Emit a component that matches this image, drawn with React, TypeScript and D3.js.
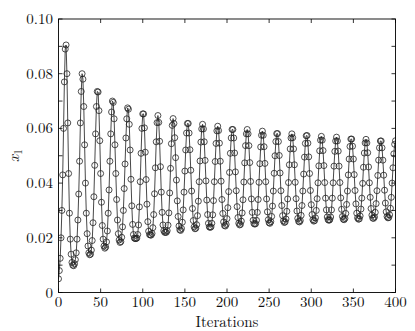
import React, { useEffect, useRef } from 'react';
import * as d3 from 'd3';

// x_1 value at every iteration 0..400
const x1Values: number[] = [
  0.005, 0.008, 0.0125, 0.020, 0.030, 0.043, 0.060, 0.077, 0.089, 0.0905,
  0.080, 0.062, 0.0435, 0.029, 0.0195, 0.014, 0.011, 0.010, 0.0098, 0.0105,
  0.012, 0.0145, 0.0195, 0.0265, 0.036, 0.048, 0.062, 0.0735, 0.080, 0.078,
  0.068, 0.054, 0.040, 0.029, 0.0215, 0.017, 0.0145, 0.0138, 0.014, 0.0155,
  0.019, 0.0255, 0.035, 0.0465, 0.058, 0.068, 0.0735, 0.0733, 0.0665, 0.0555,
  0.0435, 0.033, 0.0245, 0.0195, 0.017, 0.0162, 0.0166, 0.0185, 0.0225, 0.029,
  0.0375, 0.048, 0.058, 0.066, 0.070, 0.0695, 0.0635, 0.054, 0.0435, 0.034,
  0.0265, 0.0215, 0.0192, 0.0183, 0.0186, 0.0202, 0.024, 0.030, 0.038, 0.047,
  0.0565, 0.0635, 0.0675, 0.067, 0.0615, 0.0521, 0.0414, 0.0317, 0.0249, 0.0212,
  0.0199, 0.0197, 0.0197, 0.0199, 0.0212, 0.0247, 0.0313, 0.0405, 0.0509, 0.0600,
  0.0653, 0.0653, 0.0602, 0.0513, 0.0413, 0.0323, 0.0259, 0.0224, 0.0212, 0.0210,
  0.0210, 0.0216, 0.0237, 0.0285, 0.0361, 0.0456, 0.0551, 0.0621, 0.0647, 0.0622,
  0.0553, 0.0460, 0.0367, 0.0293, 0.0247, 0.0226, 0.0220, 0.0220, 0.0220, 0.0226,
  0.0246, 0.0291, 0.0364, 0.0454, 0.0544, 0.0611, 0.0636, 0.0618, 0.0566, 0.0493,
  0.0411, 0.0335, 0.0278, 0.0243, 0.0229, 0.0227, 0.0234, 0.0257, 0.0302, 0.0367,
  0.0444, 0.0521, 0.0583, 0.0618, 0.0618, 0.0583, 0.0522, 0.0447, 0.0371, 0.0307,
  0.0263, 0.0240, 0.0233, 0.0235, 0.0248, 0.0281, 0.0334, 0.0405, 0.0481, 0.0550,
  0.0598, 0.0615, 0.0598, 0.0551, 0.0483, 0.0408, 0.0338, 0.0285, 0.0253, 0.0240,
  0.0238, 0.0240, 0.0253, 0.0284, 0.0336, 0.0405, 0.0479, 0.0545, 0.0591, 0.0608,
  0.0592, 0.0546, 0.0480, 0.0407, 0.0340, 0.0289, 0.0258, 0.0245, 0.0243, 0.0249,
  0.0270, 0.0310, 0.0369, 0.0439, 0.0509, 0.0565, 0.0596, 0.0596, 0.0565, 0.0510,
  0.0441, 0.0372, 0.0314, 0.0274, 0.0253, 0.0247, 0.0249, 0.0261, 0.0291, 0.0339,
  0.0404, 0.0474, 0.0537, 0.0580, 0.0596, 0.0580, 0.0537, 0.0475, 0.0406, 0.0342,
  0.0293, 0.0264, 0.0252, 0.0250, 0.0252, 0.0264, 0.0293, 0.0340, 0.0403, 0.0471,
  0.0532, 0.0575, 0.0590, 0.0575, 0.0533, 0.0472, 0.0405, 0.0342, 0.0295, 0.0266,
  0.0255, 0.0253, 0.0259, 0.0278, 0.0316, 0.0371, 0.0436, 0.0500, 0.0552, 0.0581,
  0.0581, 0.0552, 0.0501, 0.0437, 0.0372, 0.0318, 0.0281, 0.0262, 0.0256, 0.0258,
  0.0269, 0.0297, 0.0342, 0.0402, 0.0467, 0.0525, 0.0565, 0.0580, 0.0566, 0.0525,
  0.0467, 0.0403, 0.0343, 0.0298, 0.0271, 0.0260, 0.0258, 0.0263, 0.0282, 0.0318,
  0.0371, 0.0433, 0.0495, 0.0545, 0.0573, 0.0574, 0.0546, 0.0496, 0.0435, 0.0373,
  0.0321, 0.0285, 0.0266, 0.0261, 0.0263, 0.0273, 0.0300, 0.0343, 0.0401, 0.0463,
  0.0518, 0.0557, 0.0571, 0.0557, 0.0519, 0.0464, 0.0402, 0.0345, 0.0302, 0.0276,
  0.0266, 0.0264, 0.0266, 0.0276, 0.0302, 0.0345, 0.0401, 0.0462, 0.0516, 0.0554,
  0.0568, 0.0554, 0.0517, 0.0462, 0.0402, 0.0346, 0.0304, 0.0278, 0.0268, 0.0266,
  0.0271, 0.0289, 0.0322, 0.0371, 0.0430, 0.0488, 0.0534, 0.0561, 0.0561, 0.0535,
  0.0488, 0.0431, 0.0373, 0.0324, 0.0290, 0.0273, 0.0268, 0.0269, 0.0280, 0.0305,
  0.0345, 0.0399, 0.0458, 0.0510, 0.0547, 0.0560, 0.0547, 0.0511, 0.0459, 0.0401,
  0.0348, 0.0307, 0.0283, 0.0272, 0.0271, 0.0276, 0.0293, 0.0325, 0.0372, 0.0428,
  0.0484, 0.0529, 0.0554, 0.0554, 0.0529, 0.0484, 0.0429, 0.0374, 0.0327, 0.0295,
  0.0278, 0.0273, 0.0274, 0.0284, 0.0308, 0.0348, 0.0400, 0.0456, 0.0507, 0.0542,
  0.0555,
];

const xTicks = [0, 50, 100, 150, 200, 250, 300, 350, 400];
const yTicks = [0, 0.02, 0.04, 0.06, 0.08, 0.1];
const yTickLabels = ['0', '0.02', '0.04', '0.06', '0.08', '0.10'];
const yMinorTicks = [0.01, 0.03, 0.05, 0.07, 0.09];

const App = () => {
  const ref = useRef<SVGSVGElement | null>(null);

  useEffect(() => {
    const svg = d3.select(ref.current);
    svg.selectAll('*').remove();

    const left = 58.5, right = 395.5, top = 19, bottom = 292.5;
    const font = '"Latin Modern Roman", "Liberation Serif", serif';

    const x = d3.scaleLinear().domain([0, 400]).range([left, right]);
    const y = d3.scaleLinear().domain([0, 0.1]).range([bottom, top]);

    const data = x1Values.map((v, i) => ({ it: i, v }));

    // clip so markers at the edges don't spill past the frame
    svg.append('clipPath').attr('id', 'plot-clip')
      .append('rect')
      .attr('x', left).attr('y', top)
      .attr('width', right - left).attr('height', bottom - top);

    const plot = svg.append('g').attr('clip-path', 'url(#plot-clip)');

    const line = d3.line<{ it: number; v: number }>()
      .x(d => x(d.it))
      .y(d => y(d.v));

    plot.append('path')
      .datum(data)
      .attr('fill', 'none')
      .attr('stroke', '#333')
      .attr('stroke-width', 0.9)
      .attr('d', line);

    plot.selectAll('circle')
      .data(data)
      .enter().append('circle')
      .attr('cx', d => x(d.it))
      .attr('cy', d => y(d.v))
      .attr('r', 3)
      .attr('fill', 'none')
      .attr('stroke', '#222')
      .attr('stroke-width', 0.8);

    // ticks, drawn inward on all four sides
    const tickLen = 4;
    const ticks = svg.append('g').attr('stroke', '#000').attr('stroke-width', 0.8);
    xTicks.forEach(t => {
      ticks.append('line').attr('x1', x(t)).attr('x2', x(t)).attr('y1', bottom).attr('y2', bottom - tickLen);
      ticks.append('line').attr('x1', x(t)).attr('x2', x(t)).attr('y1', top).attr('y2', top + tickLen);
    });
    [...yTicks, ...yMinorTicks].forEach(t => {
      ticks.append('line').attr('x1', left).attr('x2', left + tickLen).attr('y1', y(t)).attr('y2', y(t));
      ticks.append('line').attr('x1', right).attr('x2', right - tickLen).attr('y1', y(t)).attr('y2', y(t));
    });

    // frame
    svg.append('rect')
      .attr('x', left).attr('y', top)
      .attr('width', right - left).attr('height', bottom - top)
      .attr('fill', 'none')
      .attr('stroke', '#000')
      .attr('stroke-width', 0.9);

    // tick labels
    svg.append('g').selectAll('text')
      .data(xTicks)
      .enter().append('text')
      .attr('x', d => x(d))
      .attr('y', 307)
      .attr('text-anchor', 'middle')
      .attr('font-family', font)
      .attr('font-size', 15)
      .attr('fill', '#111')
      .text(d => String(d));

    svg.append('g').selectAll('text')
      .data(yTicks)
      .enter().append('text')
      .attr('x', 53)
      .attr('y', d => y(d) + 5)
      .attr('text-anchor', 'end')
      .attr('font-family', font)
      .attr('font-size', 15)
      .attr('fill', '#111')
      .text((d, i) => yTickLabels[i]);

    // axis titles
    svg.append('text')
      .attr('x', (left + right) / 2)
      .attr('y', 327)
      .attr('text-anchor', 'middle')
      .attr('font-family', font)
      .attr('font-size', 15)
      .attr('fill', '#111')
      .text('Iterations');

    const yTitle = svg.append('text')
      .attr('transform', `translate(19,${(top + bottom) / 2}) rotate(-90)`)
      .attr('text-anchor', 'middle')
      .attr('font-family', font)
      .attr('font-size', 16)
      .attr('fill', '#111');
    yTitle.append('tspan').attr('font-style', 'italic').text('x');
    yTitle.append('tspan').attr('font-size', 11).attr('dy', 3).text('1');
  }, []);

  return (
    <svg
      ref={ref}
      width={415}
      height={331}
      style={{ position: 'absolute', left: 0, top: 0, background: '#fff' }}
    />
  );
};

export default App;
